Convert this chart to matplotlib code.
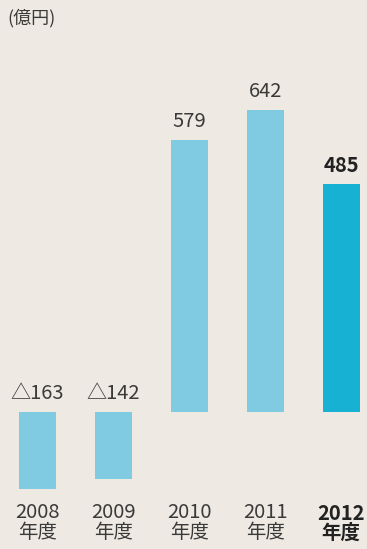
import matplotlib.pyplot as plt
import matplotlib.transforms as mtransforms

plt.rcParams['font.family'] = ['Noto Sans CJK JP', 'DejaVu Sans']

# 経常損益の推移（億円）
years = ['2008', '2009', '2010', '2011', '2012']
values = [-163, -142, 579, 642, 485]
value_labels = ['△163', '△142', '579', '642', '485']

fondo = '#eeeae3'
azul_claro = '#80cbe1'
azul_fuerte = '#17b1d4'

fig = plt.figure(figsize=(3.67, 5.49), dpi=100)
fig.patch.set_facecolor(fondo)
ax = fig.add_axes([0, 0, 1, 1])
ax.set_facecolor(fondo)

x = list(range(len(years)))
colores = [azul_claro] * 4 + [azul_fuerte]
ax.bar(x, values, width=0.49, color=colores, zorder=2)

ax.set_xlim(-0.49, 4.34)
ax.set_ylim(-291, 877)
ax.axis('off')

# etiquetas de valor sobre cada barra
for i, (v, lab) in enumerate(zip(values, value_labels)):
    top = max(v, 0)
    ultimo = i == len(values) - 1
    ax.text(i, top + 40, lab, ha='center', va='center', fontsize=14.5,
            color='#222222' if ultimo else '#3a3a3a',
            fontweight='bold' if ultimo else 'normal')

# años en la parte inferior
trans = mtransforms.blended_transform_factory(ax.transData, ax.transAxes)
for i, y in enumerate(years):
    ultimo = i == len(years) - 1
    peso = 'bold' if ultimo else 'normal'
    color = '#222222' if ultimo else '#3a3a3a'
    ax.text(i, 1 - 513 / 549, y, transform=trans, ha='center', va='center',
            fontsize=14.5, color=color, fontweight=peso)
    ax.text(i, 1 - 533 / 549, '年度', transform=trans, ha='center', va='center',
            fontsize=14, color=color, fontweight=peso)

fig.text(7 / 367, 1 - 18 / 549, '(億円)', ha='left', va='center',
         fontsize=13, color='#3a3a3a')

fig.savefig('out.png', dpi=100, facecolor=fondo)
